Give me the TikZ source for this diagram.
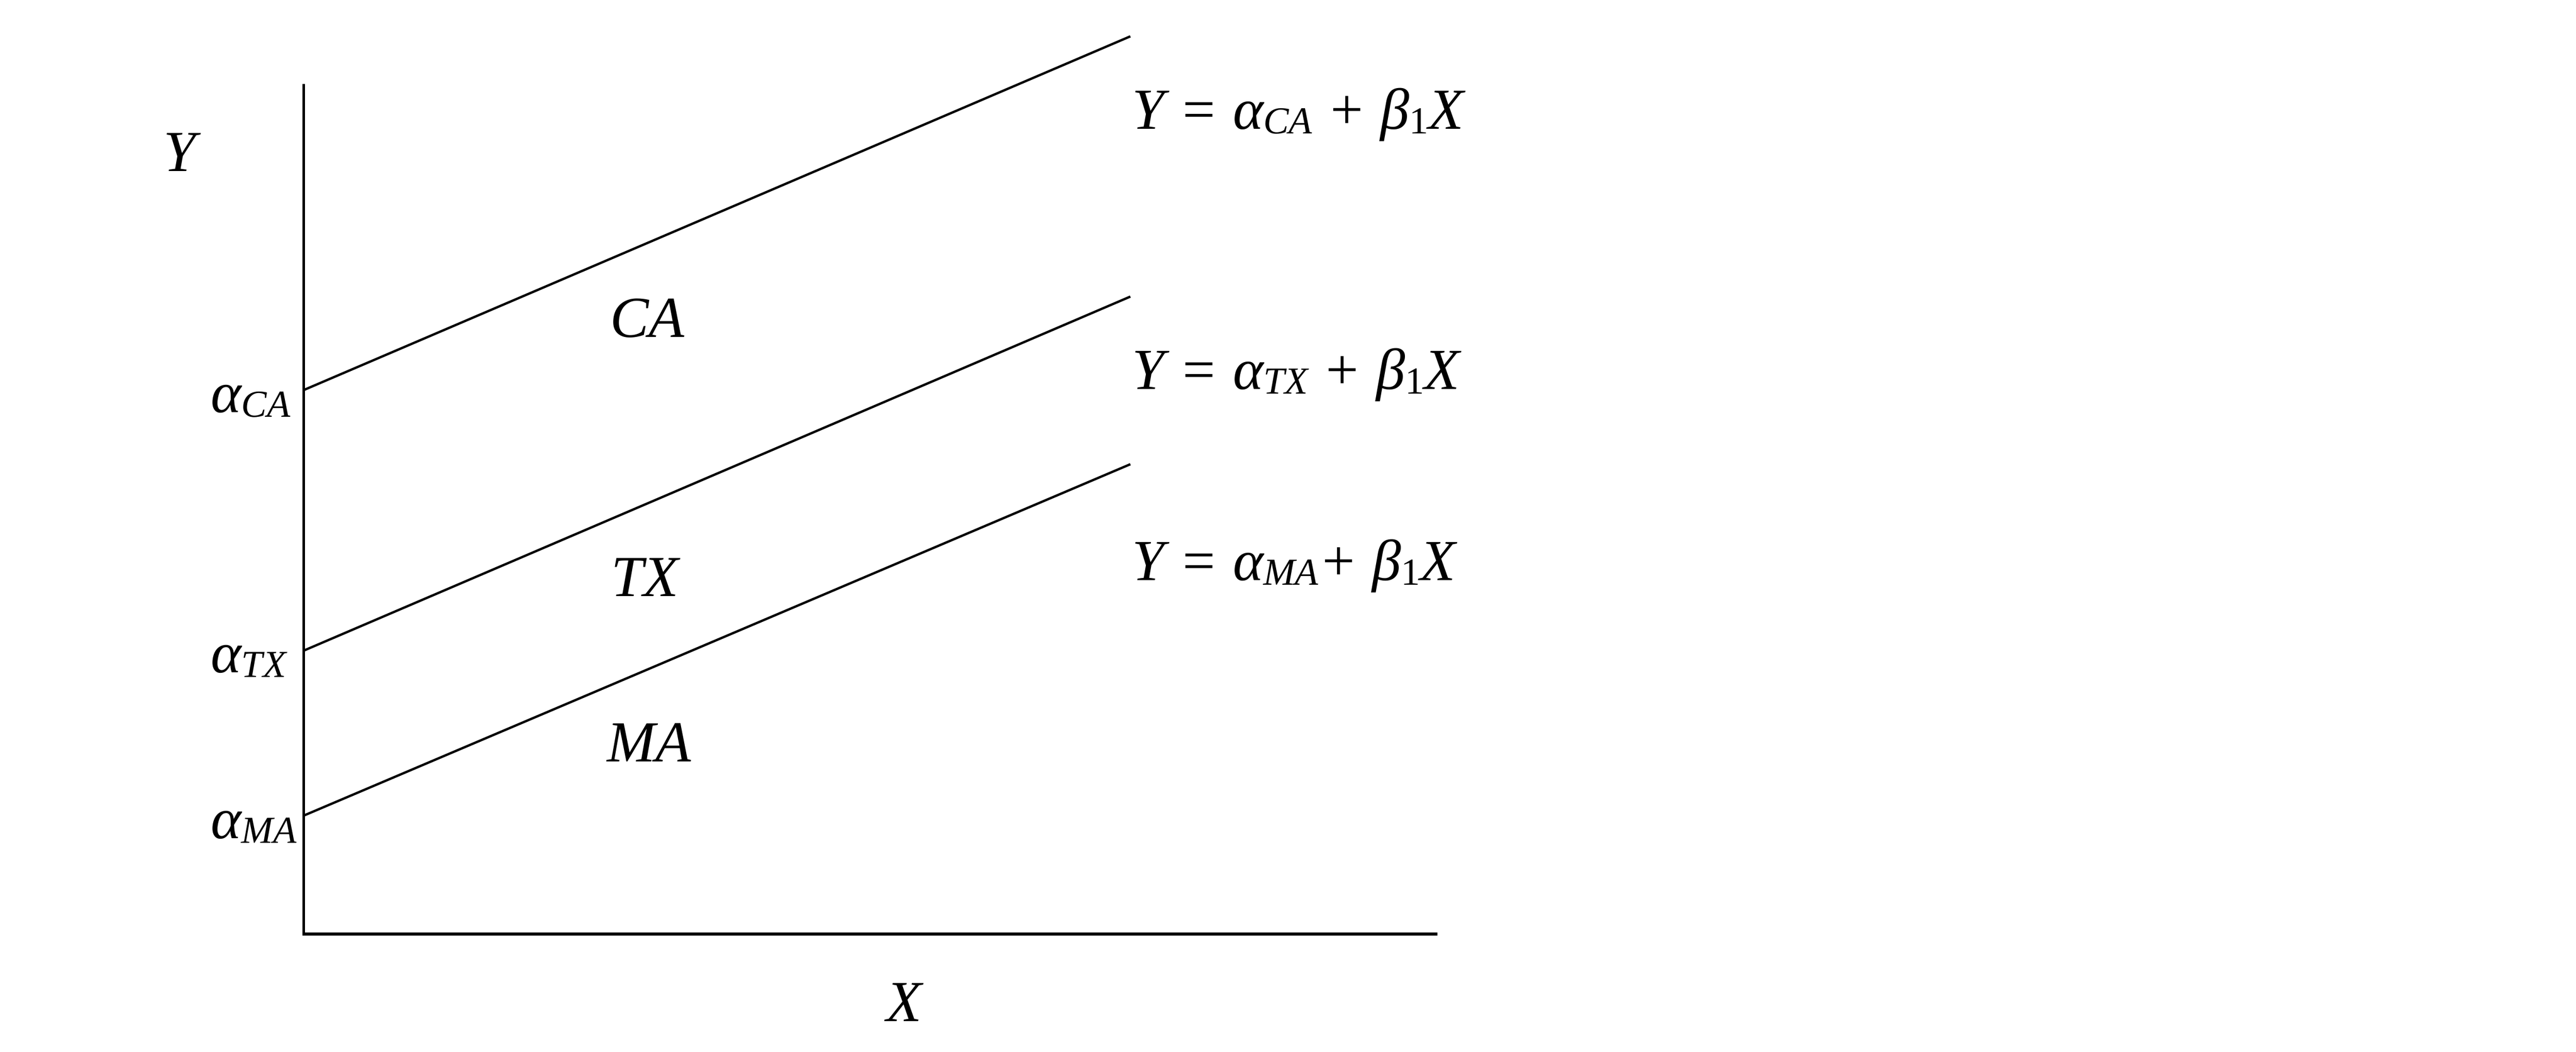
\documentclass[tikz,border=0pt]{standalone}
\usepackage{fontspec}
\setmainfont{Liberation Serif}
\usetikzlibrary{positioning}

\newcommand{\lowsub}[1]{\raisebox{-0.08em}{\fontsize{23}{23}\selectfont #1}}

\begin{document}
\begin{tikzpicture}[x=1pt,y=-1pt,
                    every node/.style={font=\fontsize{35}{42}\selectfont\itshape,inner sep=0pt,anchor=base west},
                    axis/.style={line width=1.8pt},
                    regline/.style={line width=1.4pt}]
\useasboundingbox (0,0) rectangle (1552,633.6);

\coordinate (ytop) at (183,50.6);
\coordinate (o) at (183,562.7);
\coordinate (xend) at (866,562.7);
\draw[axis] (ytop) -- (o) -- (xend);

\coordinate (ca0) at (183,235);
\coordinate (ca1) at (681,21.9);
\coordinate (tx0) at (183,392);
\coordinate (tx1) at (681,178.7);
\coordinate (ma0) at (183,491.4);
\coordinate (ma1) at (681,279.7);

\draw[regline] (ca0) -- (ca1);
\draw[regline] (tx0) -- (tx1);
\draw[regline] (ma0) -- (ma1);

\node (ylab) at (98.5,103.3) {Y};
\node (xlab) at (533.7,615.3) {X};

\node (aca) at (127,248.6) {α\lowsub{CA}};
\node (atx) at (127,405.1) {α\lowsub{TX}};
\node (ama) at (127,505.2) {α\lowsub{MA}};

\node (ca) at (367.5,203.1) {CA};
\node (tx) at (368,359.4) {TX};
\node (ma) at (365.6,458.8) {MA};

\node (eqca) at (682,77.7) {Y = α\lowsub{CA} + β\lowsub{\upshape 1}X};
\node (eqtx) at (682,234.6) {Y = α\lowsub{TX} + β\lowsub{\upshape 1}X};
\node (eqma) at (682,349.8) {Y = α\lowsub{MA}+ β\lowsub{\upshape 1}X};

\end{tikzpicture}
\end{document}
